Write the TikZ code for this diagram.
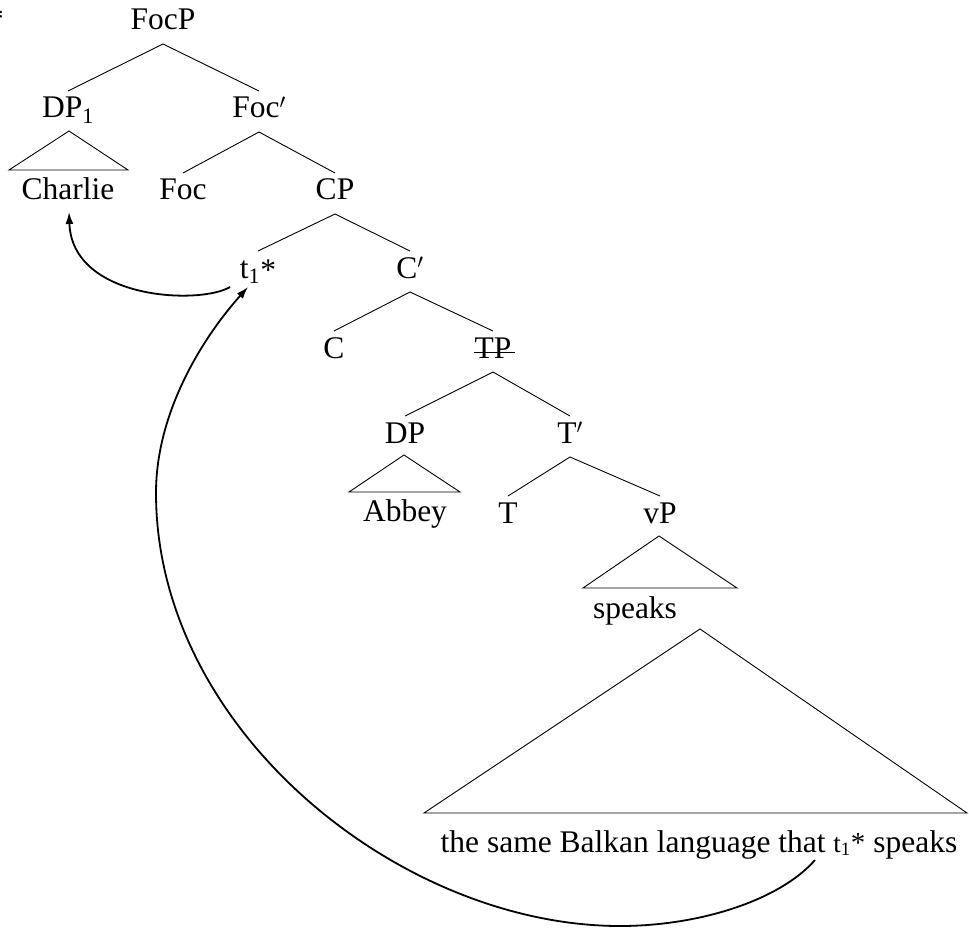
\documentclass[tikz,border=0pt]{standalone}
\usepackage{fontspec}
\setmainfont{Liberation Serif}
\usetikzlibrary{arrows.meta}
\tikzset{
  lbl/.style={anchor=base, inner sep=0pt, font=\fontsize{31.5}{36}\selectfont},
  branch/.style={line width=0.9pt},
  mvarrow/.style={line width=1.8pt, -{Latex[length=12pt,width=8pt]}}
}
% trace with index and asterisk
\newcommand{\trcmark}{t\textsubscript{1}\raisebox{-2pt}{*}}
\newcommand{\trcsmall}{{\fontsize{27}{27}\selectfont t\textsubscript{1}}{\fontsize{29}{29}\selectfont *}}
% branch from a parent label down to a child label
\newcommand{\brch}[2]{\draw[branch] ([yshift=-14pt]#1.base) -- ([yshift=27pt]#2.base);}

\begin{document}
\begin{tikzpicture}[x=1pt,y=-1pt]
\useasboundingbox (0,0) rectangle (969,928);

\node[lbl] (mark) at (-4,30) {*};

\node[lbl] (focp)    at (163,30)  {FocP};
\node[lbl] (dp1)     at (68,118)  {DP\textsubscript{1}};
\node[lbl] (focbar)  at (259,118) {Foc$'$};
\node[lbl] (charlie) at (68,200)  {Charlie};
\node[lbl] (foc)     at (183,200) {Foc};
\node[lbl] (cp)      at (335,200) {CP};
\node[lbl] (t1)      at (258,278) {\trcmark};
\node[lbl] (cbar)    at (410,278) {C$'$};
\node[lbl] (c)       at (334,358) {C};
\node[lbl] (tp)      at (493,358) {TP};
\node[lbl] (dp)      at (405,443) {DP};
\node[lbl] (tbar)    at (570,443) {T$'$};
\node[lbl] (abbey)   at (405,521) {Abbey};
\node[lbl] (t)       at (508,523) {T};
\node[lbl] (vp)      at (660,523) {vP};
\node[lbl] (speaks)  at (635,618) {speaks};
\node[lbl] (big)     at (699,852) {the same Balkan language that \trcsmall{} speaks};

% strike-through of the deleted TP
\draw[branch] ([yshift=6pt]tp.base west) -- ([xshift=3pt,yshift=6pt]tp.base east);

% branches
\brch{focp}{dp1}
\brch{focp}{focbar}
\brch{focbar}{foc}
\brch{focbar}{cp}
\brch{cp}{t1}
\brch{cp}{cbar}
\brch{cbar}{c}
\brch{cbar}{tp}
\brch{tp}{dp}
\brch{tp}{tbar}
\brch{tbar}{t}
\brch{tbar}{vp}

% roof triangles
\draw[branch] (69,131) -- (9,170) -- (128,170) -- cycle;
\draw[branch] (404,455) -- (349,492) -- (460,492) -- cycle;
\draw[branch] (659,536) -- (583,588) -- (737,588) -- cycle;
\draw[branch] (700,629) -- (424,813) -- (967,813) -- cycle;

% movement arrows
\draw[mvarrow] ([xshift=-28pt,yshift=-9pt]t1.base)
  .. controls (200,305) and (72,300) .. ([xshift=1pt,yshift=-12pt]charlie.base);
\draw[mvarrow] ([xshift=116pt,yshift=-8pt]big.base)
  .. controls (780,900) and (700,926) .. (620,926)
  .. controls (400,926) and (156,730) .. (156,493)
  .. controls (156,410) and (205,335) .. ([xshift=-10pt,yshift=-9pt]t1.base);
\end{tikzpicture}
\end{document}
